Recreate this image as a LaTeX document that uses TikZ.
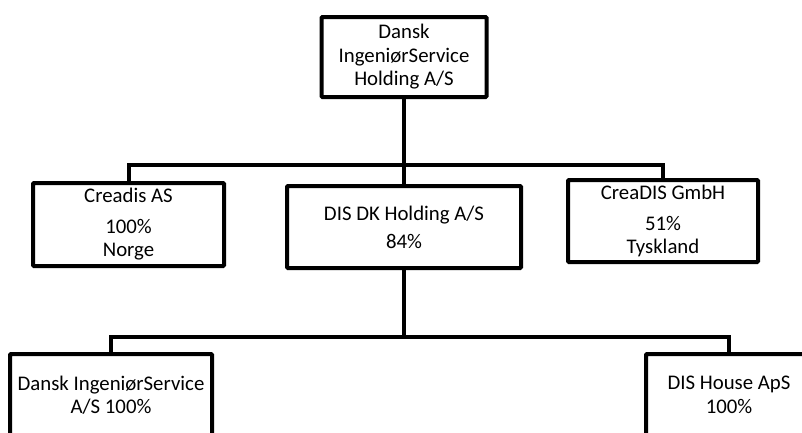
\documentclass[tikz,border=0pt]{standalone}
\usepackage{fontspec}
\setmainfont{Carlito}

\begin{document}
\begin{tikzpicture}[
    x=1pt, y=-1pt,
    box/.style={
        rectangle,
        draw=black,
        line width=4pt,
        rounded corners=1pt,
        minimum height=82pt,
        inner sep=0pt,
        text centered,
        align=center,
        font=\fontsize{20.8}{23.5}\selectfont
    },
    link/.style={
        draw=black,
        line width=4pt
    },
]
    \useasboundingbox (0,0) rectangle (802,432);
    \clip (0,0) rectangle (802,432);

    \node (holding) [box, minimum width=165pt, minimum height=80pt] at (404,57) {Dansk\\IngeniørService\\Holding A/S};

    \node (creadis) [box, minimum width=191pt, minimum height=83pt] at (128.5,224.5) {Creadis AS\\[7pt]100\%\\Norge};
    \node (dk) [box, minimum width=234pt] at (404,227) {DIS DK Holding A/S\\[4.5pt]84\%};
    \node (gmbh) [box, minimum width=190pt] at (663,221) {CreaDIS GmbH\\[7pt]51\%\\Tyskland};

    \node (dis) [box, minimum width=202pt] at (111,395) {Dansk IngeniørService\\A/S 100\%};
    \node (house) [box, minimum width=166pt] at (729,395) {DIS House ApS\\100\%};

    % connectors
    \coordinate (split1) at (404,165);
    \coordinate (split2) at (404,337);
    \draw [link] (holding.south) -- (dk.north);
    \draw [link] (creadis.north) |- (split1) -| (gmbh.north);
    \draw [link] (dk.south) -- (split2);
    \draw [link] (dis.north) |- (split2) -| (house.north);
\end{tikzpicture}
\end{document}
